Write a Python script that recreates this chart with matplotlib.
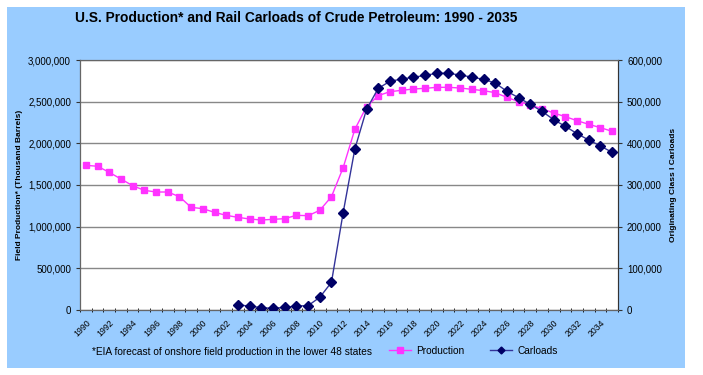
import matplotlib.pyplot as plt
import matplotlib.ticker as mticker
from matplotlib.patches import Rectangle
from matplotlib.lines import Line2D
import numpy as np

plt.rcParams['font.family'] = ['Liberation Sans', 'DejaVu Sans']

# %% Données

annees = list(range(1990, 2036))

# Production (milliers de barils), 1990 -> 2035
production = [1736000, 1725000, 1652000, 1572000, 1492000, 1436000, 1416000, 1416000,
              1360000, 1232000, 1216000, 1172000, 1136000, 1112000, 1092000, 1080000,
              1088000, 1096000, 1136000, 1132000, 1196000, 1360000, 1708000, 2168000,
              2440000, 2572000, 2620000, 2636000, 2652000, 2660000, 2672000, 2672000,
              2664000, 2648000, 2632000, 2608000, 2552000, 2500000, 2460000, 2416000,
              2364000, 2320000, 2272000, 2228000, 2188000, 2144000]

# Wagons (à partir de 2003)
annees_wagons = list(range(2003, 2036))
wagons = [12000, 9600, 5600, 4000, 6400, 9600, 10400, 30400, 66400, 233600,
          386400, 481600, 532000, 548800, 554400, 558400, 563200, 568000, 568000,
          564000, 559000, 553600, 544800, 524800, 509600, 493600, 476800, 456800,
          440800, 423200, 408000, 393600, 378400]

titre = 'U.S. Production* and Rail Carloads of Crude Petroleum: 1990 - 2035'
note = '*EIA forecast of onshore field production in the lower 48 states'

# %% Figure

W, H = 703, 375
fig = plt.figure(figsize=(W / 100, H / 100), dpi=100)
fig.patch.set_facecolor('white')
fig.patches.append(Rectangle((7 / W, 1 - 368 / H), (685 - 7) / W, (368 - 7) / H,
                             transform=fig.transFigure, facecolor='#99CCFF',
                             edgecolor='none', zorder=-10))

ax1 = fig.add_axes([80 / W, 1 - 310 / H, (618 - 80) / W, (310 - 60) / H])
ax1.set_facecolor('white')
ax2 = ax1.twinx()

x_prod = np.arange(len(annees))
x_wag = np.array([annees.index(a) for a in annees_wagons])

ax1.plot(x_prod, production, color='#FF33FF', lw=1, marker='s', ms=4.5,
         mfc='#FF33FF', mec='#FF33FF', zorder=3)
ax2.plot(x_wag, wagons, color='#333399', lw=1, marker='D', ms=5,
         mfc='#000066', mec='#000066', zorder=3)

ax1.set_xlim(-0.5, len(annees) - 0.5)
ax1.set_ylim(0, 3000000)
ax2.set_ylim(0, 600000)

ax1.yaxis.set_major_locator(mticker.MultipleLocator(500000))
ax2.yaxis.set_major_locator(mticker.MultipleLocator(100000))
fmt = mticker.FuncFormatter(lambda v, p: '{:,.0f}'.format(v))
ax1.yaxis.set_major_formatter(fmt)
ax2.yaxis.set_major_formatter(fmt)

ax1.grid(axis='y', color='#888888', lw=1)
ax1.set_axisbelow(True)

# axe des x : une graduation par catégorie, étiquette tous les deux ans
ax1.set_xticks(x_prod[::2][:23])
ax1.set_xticklabels([str(a) for a in annees[::2][:23]], rotation=45,
                    ha='right', rotation_mode='anchor', fontsize=6.3)
ax1.set_xticks(np.arange(-0.5, len(annees)), minor=True)
ax1.tick_params(axis='x', which='major', length=0, pad=6)
ax1.tick_params(axis='x', which='minor', length=3, direction='inout')
ax1.tick_params(axis='y', labelsize=7, length=3, direction='out', color='#333333')
ax2.tick_params(axis='y', labelsize=7, length=3, direction='out', color='#333333')

for a in (ax1, ax2):
    for s in a.spines.values():
        s.set_color('#666666')
        s.set_linewidth(0.8)
ax1.spines['left'].set_color('#333333')
ax1.spines['bottom'].set_color('#333333')
ax2.spines['right'].set_color('#333333')

ax1.set_ylabel('Field Production* (Thousand Barrels)', fontsize=6,
               fontweight='bold', labelpad=4)
ax2.set_ylabel('Originating Class I Carloads', fontsize=6, fontweight='bold',
               labelpad=6)

fig.text(75 / W, 1 - 18 / H, titre, fontsize=9.9, fontweight='bold',
         ha='left', va='center')
fig.text(92 / W, 1 - 352 / H, note, fontsize=7.3, ha='left', va='center')

# légende
poignees = [Line2D([], [], color='#FF33FF', lw=1, marker='s', ms=4.5),
            Line2D([], [], color='#333399', lw=1, marker='D', ms=3.5,
                   mfc='#000066', mec='#000066')]
fig.legend(poignees, ['Production', 'Carloads'], loc='center left',
           bbox_to_anchor=(380 / W, 1 - 351 / H), ncol=2, frameon=False,
           fontsize=7.3, handlelength=2.2, handletextpad=0.5, columnspacing=2.5)

fig.savefig('out.png', dpi=100)
